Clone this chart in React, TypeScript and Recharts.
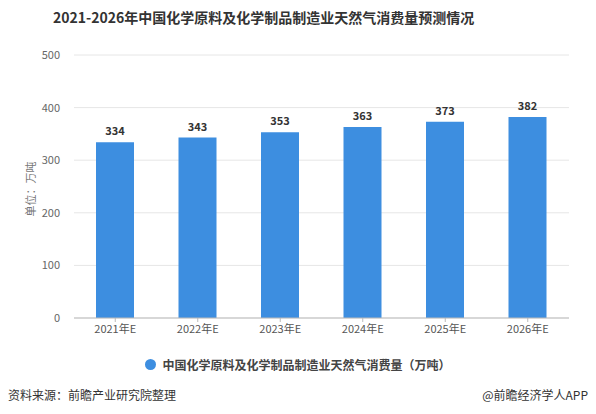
import { BarChart, Bar, XAxis, YAxis, CartesianGrid, LabelList } from "recharts";

const years = ["2021年E", "2022年E", "2023年E", "2024年E", "2025年E", "2026年E"];
const consumption = [334, 343, 353, 363, 373, 382];
const yTicks = [0, 100, 200, 300, 400, 500];

const seriesName = "中国化学原料及化学制品制造业天然气消费量（万吨）";
const barColor = "#3d8ee0";
const font = '"Microsoft YaHei", "Noto Sans CJK SC", sans-serif';

const data = years.map((year, i) => ({ year, value: consumption[i] }));

function LegendRow() {
  return (
    <div
      style={{
        position: "absolute",
        left: 0,
        width: 596,
        top: 356,
        display: "flex",
        justifyContent: "center",
        alignItems: "center",
        gap: 6,
      }}
    >
      <span
        style={{ width: 11, height: 11, borderRadius: "50%", background: barColor, display: "inline-block" }}
      />
      <span style={{ fontSize: 12, fontWeight: 700, color: "#444", fontFamily: font }}>{seriesName}</span>
    </div>
  );
}

export default function App() {
  return (
    <div style={{ position: "absolute", left: 0, top: 0, width: 596, height: 414, background: "#fff", fontFamily: font }}>
      <div
        style={{
          position: "absolute",
          left: 53,
          top: 7,
          fontSize: 14,
          fontWeight: 700,
          color: "#333",
          whiteSpace: "nowrap",
        }}
      >
        2021-2026年中国化学原料及化学制品制造业天然气消费量预测情况
      </div>
      <BarChart
        width={596}
        height={414}
        data={data}
        margin={{ top: 55, right: 27, left: 44, bottom: 46 }}
        barSize={38}
      >
        <CartesianGrid vertical={false} stroke="#e6e6e6" />
        <XAxis
          dataKey="year"
          tickLine={{ stroke: "#bbb" }}
          tickSize={4}
          axisLine={{ stroke: "#bbb" }}
          tick={{ fontSize: 11, fill: "#555", fontFamily: font }}
          tickMargin={3}
          height={50}
        />
        <YAxis
          width={30}
          domain={[0, 500]}
          ticks={yTicks}
          axisLine={false}
          tickLine={false}
          tickMargin={8}
          tick={{ fontSize: 11, fill: "#666", fontFamily: font }}
          label={{
            value: "单位：万吨",
            angle: -90,
            position: "insideLeft",
            dx: -18,
            dy: 30,
            style: { fontSize: 11, fill: "#777", fontFamily: font },
          }}
        />
        <Bar dataKey="value" name={seriesName} fill={barColor} isAnimationActive={false}>
          <LabelList
            dataKey="value"
            position="top"
            offset={7}
            style={{ fontSize: 11, fontWeight: 700, fill: "#333", fontFamily: font }}
          />
        </Bar>
      </BarChart>
      <LegendRow />
      <div style={{ position: "absolute", left: 8, top: 386, fontSize: 12, color: "#333" }}>
        资料来源：前瞻产业研究院整理
      </div>
      <div style={{ position: "absolute", right: 8, top: 386, fontSize: 12, color: "#333" }}>
        @前瞻经济学人APP
      </div>
    </div>
  );
}
